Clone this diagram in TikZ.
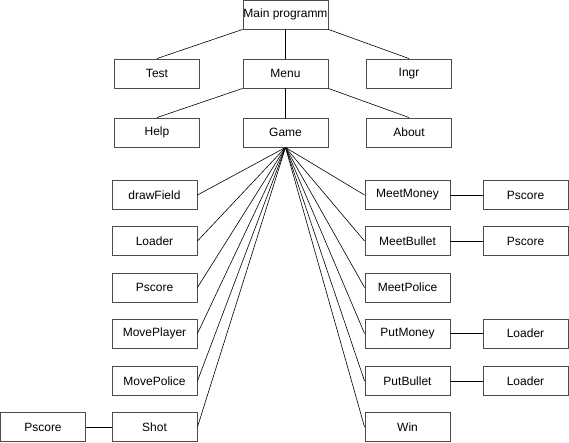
\documentclass[tikz,border=0pt]{standalone}
\usepackage{fontspec}
\setmainfont{Liberation Sans}
\usetikzlibrary{positioning}

\tikzset{
  block/.style={draw=black!70, line width=0.9pt, minimum width=85pt, minimum height=29pt,
    inner sep=0pt, font=\fontsize{12}{14}\selectfont},
  link/.style={line width=0.6pt}
}

\begin{document}
\begin{tikzpicture}[x=1pt, y=-1pt]

        \useasboundingbox (0,0) rectangle (569,442);

        % top levels
        \node[block] (main) at (285.5,14.5) {Main programm};
        \node[block] (test) at (157,73.5) {Test};
        \node[block] (menu) at (285.5,73.5) {Menu};
        \node[block] (ingr) at (409,73.5) {Ingr};
        \node[block] (help) at (157,132.5) {Help};
        \node[block] (game) at (285.5,132.5) {Game};
        \node[block] (about) at (409,132.5) {About};

        \draw[link] (main.south west) -- (test.north);
        \draw[link] (main.south) -- (menu.north);
        \draw[link] (main.south east) -- (ingr.north);
        \draw[link] (menu.south west) -- (help.north);
        \draw[link] (menu.south) -- (game.north);
        \draw[link] (menu.south east) -- (about.north);

        % left column of Game
        \foreach \name/\txt/\y in {drawf/drawField/195, loadl/Loader/241, pscl/Pscore/287.5,
                                   movepl/MovePlayer/333.5, movepo/MovePolice/381, shot/Shot/427}
        {
          \node[block] (\name) at (154.5,\y) {\txt};
          \draw[link] (game.south) -- (\name.east);
        }

        % right column of Game
        \foreach \name/\txt/\y in {meetm/MeetMoney/195, meetb/MeetBullet/241, meetp/MeetPolice/287.5,
                                   putm/PutMoney/333.5, putb/PutBullet/381, win/Win/427}
        {
          \node[block] (\name) at (407.5,\y) {\txt};
          \draw[link] (game.south) -- (\name.west);
        }

        % calls further down
        \node[block] (pscshot) at (43,427) {Pscore};
        \node[block] (pscmm) at (525.5,195) {Pscore};
        \node[block] (pscmb) at (525.5,241) {Pscore};
        \node[block] (loadpm) at (525.5,333.5) {Loader};
        \node[block] (loadpb) at (525.5,381) {Loader};

        \draw[link] (shot) -- (pscshot);
        \draw[link] (meetm) -- (pscmm);
        \draw[link] (meetb) -- (pscmb);
        \draw[link] (putm) -- (loadpm);
        \draw[link] (putb) -- (loadpb);

\end{tikzpicture}
\end{document}
